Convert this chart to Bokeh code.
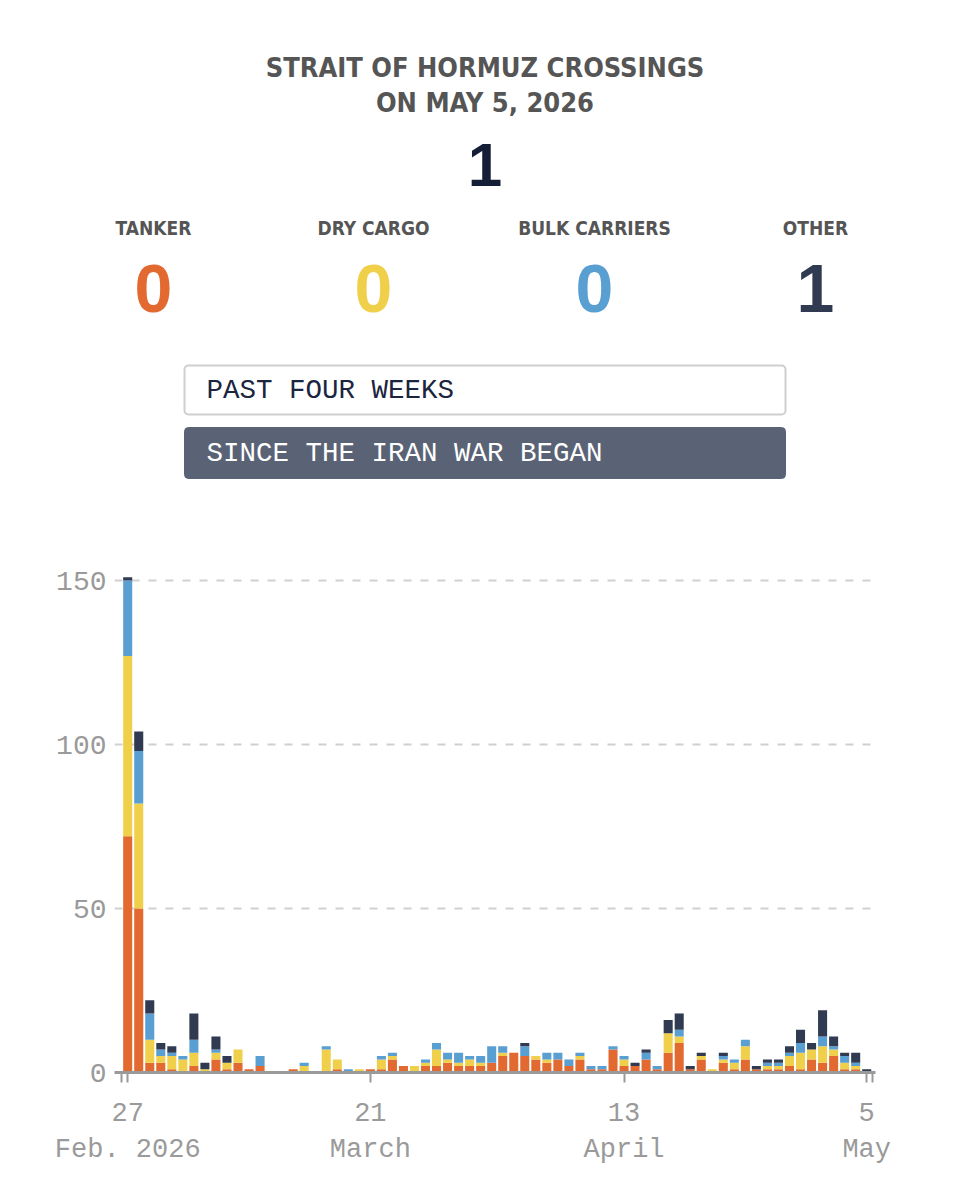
import pandas as pd
from bokeh.plotting import figure
from bokeh.models import ColumnDataSource, Range1d, FixedTicker
from bokeh.layouts import column
from bokeh.core.properties import value
from bokeh.embed import file_html
from bokeh.resources import INLINE

# ---------------- data ----------------
start_date = "2026-02-27"
end_date = "2026-05-05"
tanker = [72, 50, 3, 3, 1, 0, 2, 0, 4, 1,
          3, 1, 2, 0, 0, 1, 0, 0, 0, 1,
          0, 0, 1, 1, 4, 2, 0, 2, 2, 3,
          2, 2, 2, 3, 5, 6, 5, 4, 3, 4,
          2, 4, 1, 1, 7, 2, 2, 4, 1, 6,
          9, 1, 4, 0, 3, 1, 4, 1, 1, 1,
          2, 1, 4, 3, 5, 1, 1, 0]
dry_cargo = [55, 32, 7, 2, 4, 4, 4, 1, 2, 2,
             4, 0, 0, 0, 0, 0, 2, 0, 7, 3,
             0, 1, 0, 3, 1, 0, 2, 1, 5, 1,
             1, 2, 1, 0, 1, 0, 0, 1, 1, 0,
             0, 1, 0, 0, 0, 2, 0, 0, 0, 6,
             2, 0, 1, 1, 1, 2, 4, 0, 1, 1,
             3, 5, 3, 5, 2, 2, 1, 0]
bulk_carriers = [23, 16, 8, 2, 1, 1, 4, 0, 1, 0,
                 0, 0, 3, 0, 0, 0, 1, 0, 1, 0,
                 1, 0, 0, 1, 1, 0, 0, 1, 2, 2,
                 3, 1, 2, 5, 2, 0, 3, 0, 2, 2,
                 2, 1, 1, 1, 1, 1, 0, 2, 1, 0,
                 2, 0, 0, 0, 1, 1, 2, 0, 1, 1,
                 1, 3, 0, 3, 1, 2, 1, 0]
other = [1, 6, 4, 2, 2, 0, 8, 2, 4, 2,
         0, 0, 0, 0, 0, 0, 0, 0, 0, 0,
         0, 0, 0, 0, 0, 0, 0, 0, 0, 0,
         0, 0, 0, 0, 0, 0, 1, 0, 0, 0,
         0, 0, 0, 0, 0, 0, 1, 1, 0, 4,
         5, 1, 1, 0, 1, 0, 0, 1, 1, 1,
         2, 4, 2, 8, 3, 1, 3, 1]
categories = ["TANKER", "DRY CARGO", "BULK CARRIERS", "OTHER"]
series_keys = ["tanker", "dry_cargo", "bulk_carriers", "other"]
colors = ["#E2692F", "#F0D04A", "#5A9FD2", "#303B52"]
tick_dates = ["2026-02-27", "2026-03-21", "2026-04-13", "2026-05-05"]
tick_labels = ["27\nFeb. 2026", "21\nMarch", "13\nApril", "5\nMay"]
y_ticks = [0, 50, 100, 150]
grid_ticks = [50, 100, 150]
title_lines = ["STRAIT OF HORMUZ CROSSINGS", "ON MAY 5, 2026"]
buttons = ["PAST FOUR WEEKS", "SINCE THE IRAN WAR BEGAN"]

dates = pd.date_range(start_date, end_date, freq="D")
idx = list(range(len(dates)))
source = ColumnDataSource(dict(x=idx, tanker=tanker, dry_cargo=dry_cargo,
                               bulk_carriers=bulk_carriers, other=other))

last_vals = [tanker[-1], dry_cargo[-1], bulk_carriers[-1], other[-1]]
total_last = sum(last_vals)

NARROW = value("DejaVu Sans Condensed, Roboto, sans-serif")
SANS = value("Liberation Sans")
MONO = value("Liberation Mono")

W = 953
FRAME_L, FRAME_R = 114, 875   # page pixels of the plot frame

# ---------------- header ----------------
HEAD_H = 540
h = figure(width=W, height=HEAD_H, x_range=Range1d(FRAME_L, FRAME_R),
           y_range=Range1d(HEAD_H, 0), output_backend="svg", toolbar_location=None,
           x_axis_type=None, y_axis_type=None, min_border=0,
           min_border_left=FRAME_L, min_border_right=W - FRAME_R,
           min_border_top=0, min_border_bottom=0)
h.outline_line_color = None

h.text(x=[484.5, 484.5], y=[66.5, 101.5], text=title_lines, text_font=NARROW,
       text_font_size="27px", text_font_style="bold", text_color="#555555",
       text_align="center", text_baseline="middle")
h.text(x=[484.5], y=[164], text=[str(total_last)], text_font=SANS,
       text_font_size="62px", text_font_style="bold", text_color="#141E36",
       text_align="center", text_baseline="middle")

cat_x = [153, 373, 594, 815]
h.text(x=cat_x, y=[227] * 4, text=categories, text_font=NARROW,
       text_font_size="19px", text_font_style="bold", text_color="#555555",
       text_align="center", text_baseline="middle")
num_src = ColumnDataSource(dict(x=cat_x, y=[288] * 4, t=[str(v) for v in last_vals],
                                c=colors))
h.text(x="x", y="y", text="t", text_color="c", source=num_src, text_font=SANS,
       text_font_size="68px", text_font_style="bold",
       text_align="center", text_baseline="middle")

h.quad(left=[184], right=[785], top=[365], bottom=[414], fill_color="white",
       line_color="#cfcfcf", line_width=2, border_radius=4)
h.quad(left=[184], right=[785], top=[427], bottom=[478], fill_color="#5A6375",
       line_color="#5A6375", line_width=1, border_radius=4)
h.text(x=[206, 206], y=[390, 453], text=buttons, text_color=["#1B2540", "#FFFFFF"],
       text_font=MONO, text_font_size="27.5px", text_align="left",
       text_baseline="middle")

# ---------------- chart ----------------
PX_PER_DAY = 11.03
FIRST_BAR_CENTER = 127.2
x_lo = (FRAME_L - FIRST_BAR_CENTER) / PX_PER_DAY
x_hi = (FRAME_R - FIRST_BAR_CENTER) / PX_PER_DAY
edge_lo = (121 - FIRST_BAR_CENTER) / PX_PER_DAY
edge_hi = (872 - FIRST_BAR_CENTER) / PX_PER_DAY

p = figure(width=W, height=642, x_range=Range1d(x_lo, x_hi),
           y_range=Range1d(0, 154.27), output_backend="svg", toolbar_location=None,
           min_border_left=FRAME_L, min_border_right=W - FRAME_R, min_border_top=26,
           min_border_bottom=110)
p.outline_line_color = None

p.vbar_stack(series_keys, x="x", width=0.82, color=colors, line_color=None,
             source=source)

p.xgrid.visible = False
p.ygrid.ticker = FixedTicker(ticks=grid_ticks)
p.ygrid.grid_line_color = "#d0d0d0"
p.ygrid.grid_line_width = 2
p.ygrid.grid_line_dash = "8 9"

p.yaxis.ticker = FixedTicker(ticks=y_ticks)
p.yaxis.axis_line_color = None
p.yaxis.major_tick_line_color = None
p.yaxis.minor_tick_line_color = None
p.yaxis.major_tick_out = 0
p.yaxis.major_tick_in = 0
p.yaxis.major_label_standoff = 8
p.yaxis.major_label_text_font = "Liberation Mono"
p.yaxis.major_label_text_font_size = "28px"
p.yaxis.major_label_text_color = "#9a9a9a"

tick_pos = [int((pd.Timestamp(d) - dates[0]).days) for d in tick_dates]
overrides = {edge_lo: "", edge_hi: ""}
for tp, tl in zip(tick_pos, tick_labels):
    overrides[tp] = tl
p.xaxis.ticker = FixedTicker(ticks=[edge_lo] + tick_pos + [edge_hi])
p.xaxis.major_label_overrides = overrides
p.xaxis.axis_line_color = "#9a9a9a"
p.xaxis.axis_line_width = 3
p.xaxis.major_tick_line_color = "#9a9a9a"
p.xaxis.major_tick_line_width = 2
p.xaxis.major_tick_out = 10
p.xaxis.major_tick_in = 0
p.xaxis.minor_tick_line_color = None
p.xaxis.major_label_standoff = 16
p.xaxis.major_label_text_font = "Liberation Mono"
p.xaxis.major_label_text_font_size = "27px"
p.xaxis.major_label_text_color = "#9a9a9a"

layout = column(h, p, spacing=0)
open("out.html", "w").write(file_html(layout, INLINE))
